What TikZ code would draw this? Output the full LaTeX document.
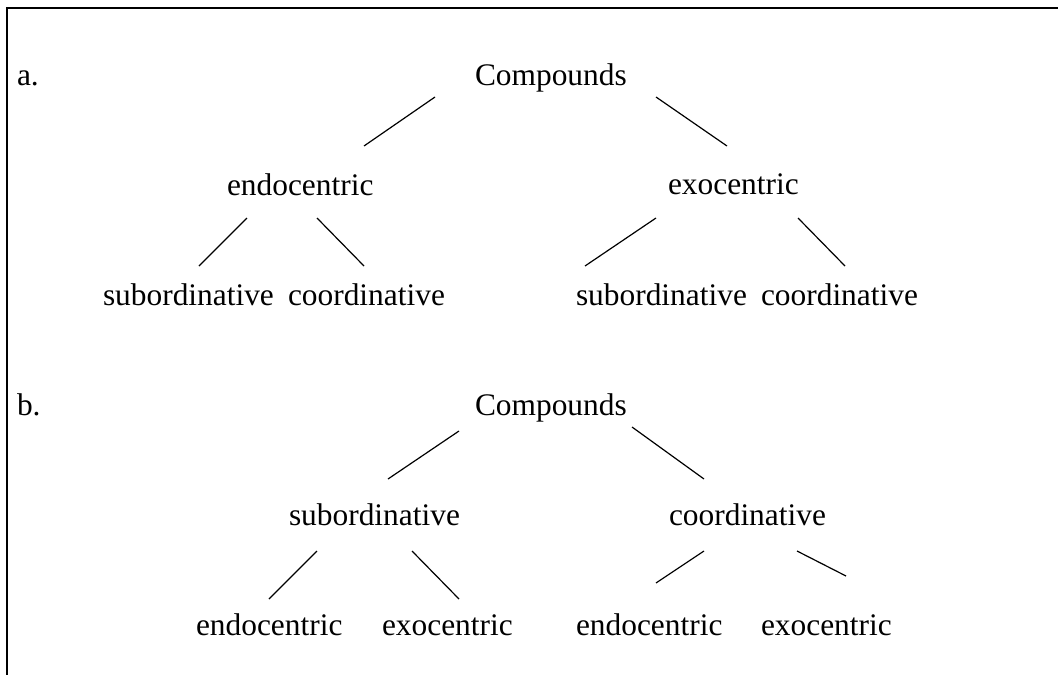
\documentclass[tikz,border=0pt]{standalone}
\usepackage{fontspec}
\setmainfont{Liberation Serif}
\begin{document}
\begin{tikzpicture}[x=0.75pt,y=-0.75pt,
  lbl/.style={anchor=base west, inner sep=0pt, outer sep=0pt, font=\fontsize{23.55}{28}\selectfont},
  edge/.style={line width=0.9pt, line cap=butt},
  frame/.style={line width=1.7pt}]
\useasboundingbox (0,0) rectangle (1058,675);
% frame (top and left only)
\coordinate (fbl) at (7,675);
\coordinate (ftl) at (7,8);
\coordinate (ftr) at (1058,8);
\draw[frame] (fbl) -- (ftl) -- (ftr);

% tree a
\node[lbl] (la) at (17,85) {a.};
\node[lbl] (ca) at (475,85) {Compounds};
\node[lbl] (endoA) at (227,195) {endocentric};
\node[lbl] (exoA) at (668,194) {exocentric};
\node[lbl] (subA1) at (103,305) {subordinative};
\node[lbl] (coA1) at (288,305) {coordinative};
\node[lbl] (subA2) at (576,305) {subordinative};
\node[lbl] (coA2) at (761,305) {coordinative};

\coordinate (a1s) at (435,97);  \coordinate (a1e) at (364,146);
\coordinate (a2s) at (656,97);  \coordinate (a2e) at (727,146);
\coordinate (a3s) at (247,218); \coordinate (a3e) at (199,266);
\coordinate (a4s) at (317,218); \coordinate (a4e) at (364,266);
\coordinate (a5s) at (656,218); \coordinate (a5e) at (585,266);
\coordinate (a6s) at (798,218); \coordinate (a6e) at (845,266);
\draw[edge] (a1s) -- (a1e);
\draw[edge] (a2s) -- (a2e);
\draw[edge] (a3s) -- (a3e);
\draw[edge] (a4s) -- (a4e);
\draw[edge] (a5s) -- (a5e);
\draw[edge] (a6s) -- (a6e);

% tree b
\node[lbl] (lb) at (17,415) {b.};
\node[lbl] (cb) at (475,415) {Compounds};
\node[lbl] (subB) at (289,525) {subordinative};
\node[lbl] (coB) at (669,525) {coordinative};
\node[lbl] (endoB1) at (196,635) {endocentric};
\node[lbl] (exoB1) at (382,635) {exocentric};
\node[lbl] (endoB2) at (576,635) {endocentric};
\node[lbl] (exoB2) at (761,635) {exocentric};

\coordinate (b1s) at (459,431); \coordinate (b1e) at (388,479);
\coordinate (b2s) at (632,427); \coordinate (b2e) at (704,479);
\coordinate (b3s) at (317,551); \coordinate (b3e) at (269,599);
\coordinate (b4s) at (412,551); \coordinate (b4e) at (459,599);
\coordinate (b5s) at (704,551); \coordinate (b5e) at (656,583);
\coordinate (b6s) at (797,551); \coordinate (b6e) at (846,576);
\draw[edge] (b1s) -- (b1e);
\draw[edge] (b2s) -- (b2e);
\draw[edge] (b3s) -- (b3e);
\draw[edge] (b4s) -- (b4e);
\draw[edge] (b5s) -- (b5e);
\draw[edge] (b6s) -- (b6e);
\end{tikzpicture}
\end{document}
